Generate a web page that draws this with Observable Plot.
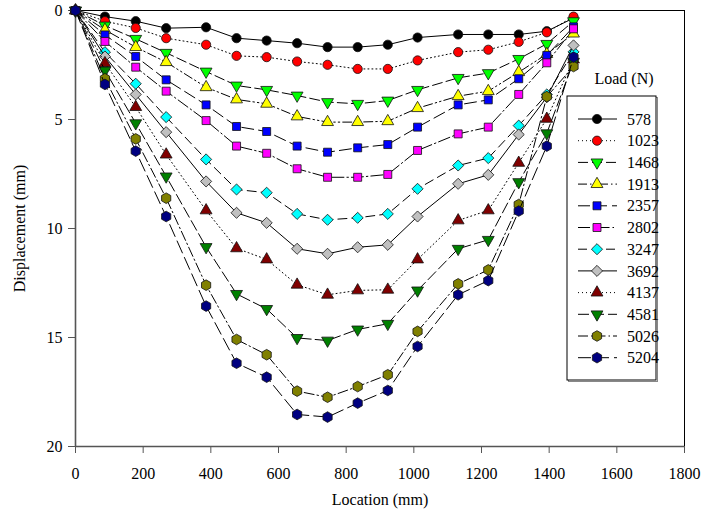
<!DOCTYPE html>
<html>
<head>
<meta charset="utf-8">
<script src="https://cdn.jsdelivr.net/npm/d3@7"></script>
<script src="https://cdn.jsdelivr.net/npm/@observablehq/plot@0.6"></script>
<style>
  html, body { margin: 0; padding: 0; background: white; }
  #wrap { position: relative; width: 701px; height: 519px; }
  #wrap svg.legend { position: absolute; left: 0; top: 0; pointer-events: none; }
  #wrap svg, #wrap svg text { font-family: "Liberation Serif", "Times New Roman", Times, serif !important; }
</style>
</head>
<body>
<div id="wrap"></div>
<script>
// ---- data ----
const locations = [0, 87, 178, 268, 386, 476, 565, 655, 745, 834, 923, 1011, 1131, 1220, 1310, 1393, 1472];
const loads = [578, 1023, 1468, 1913, 2357, 2802, 3247, 3692, 4137, 4581, 5026, 5204];
const d578  = [0, 0.28, 0.49, 0.81, 0.77, 1.27, 1.38, 1.50, 1.68, 1.68, 1.57, 1.24, 1.10, 1.10, 1.10, 0.95, 0.35];
const d1023 = [0, 0.49, 0.80, 1.27, 1.57, 2.08, 2.14, 2.34, 2.49, 2.68, 2.68, 2.29, 1.91, 1.80, 1.44, 1.00, 0.28];
const d1468 = [0, 0.69, 1.30, 1.94, 2.80, 3.44, 3.64, 3.90, 4.20, 4.28, 4.13, 3.64, 3.09, 2.87, 2.22, 1.53, 0.49];
const d1913 = [0, 0.89, 1.68, 2.37, 3.52, 4.08, 4.28, 4.86, 5.12, 5.12, 5.08, 4.48, 3.93, 3.70, 2.83, 2.00, 1.06];
const d2357 = [0, 1.12, 2.11, 3.18, 4.33, 5.32, 5.55, 6.22, 6.50, 6.30, 6.15, 5.35, 4.33, 4.10, 3.13, 2.06, 0.75];
const d2802 = [0, 1.42, 2.60, 3.70, 5.05, 6.22, 6.55, 7.26, 7.65, 7.65, 7.52, 6.42, 5.66, 5.35, 3.85, 2.40, 0.84];
const d3247 = [0, 1.91, 3.36, 4.89, 6.83, 8.21, 8.36, 9.33, 9.60, 9.51, 9.33, 8.18, 7.11, 6.77, 5.28, 3.85, 1.90];
const d3692 = [0, 2.11, 3.85, 5.58, 7.84, 9.28, 9.74, 10.93, 11.16, 10.86, 10.75, 9.45, 7.95, 7.54, 5.69, 3.98, 1.60];
const d4137 = [0, 2.42, 4.43, 6.61, 9.17, 10.91, 11.42, 12.58, 13.04, 12.84, 12.81, 11.42, 9.63, 9.17, 6.99, 4.97, 2.25];
const d4581 = [0, 2.75, 5.17, 7.61, 10.85, 13.00, 13.69, 15.02, 15.14, 14.63, 14.37, 12.84, 10.93, 10.52, 7.87, 5.63, 2.35];
const d5026 = [0, 3.13, 5.89, 8.61, 12.60, 15.09, 15.79, 17.46, 17.74, 17.25, 16.71, 14.72, 12.54, 11.90, 8.90, 3.95, 2.57];
const d5204 = [0, 3.39, 6.45, 9.45, 13.56, 16.18, 16.82, 18.53, 18.65, 18.01, 17.43, 15.41, 13.04, 12.39, 9.20, 6.22, 2.14];
const seriesValues = [d578, d1023, d1468, d1913, d2357, d2802, d3247, d3692, d4137, d4581, d5026, d5204];
const xTicks = [0, 200, 400, 600, 800, 1000, 1200, 1400, 1600, 1800];
const yTicks = [0, 5, 10, 15, 20];

// ---- symbols ----
const sqrt3 = Math.sqrt(3);
const triDown = { draw(ctx, size) {
  const y = -Math.sqrt(size / (sqrt3 * 3));
  ctx.moveTo(0, -y * 2); ctx.lineTo(-sqrt3 * y, y); ctx.lineTo(sqrt3 * y, y); ctx.closePath();
}};
const hexagon = { draw(ctx, size) {
  const rx = Math.sqrt(size / Math.PI), ry = rx * 2 / sqrt3, hy = ry / 2;
  ctx.moveTo(0, ry); ctx.lineTo(rx, hy); ctx.lineTo(rx, -hy); ctx.lineTo(0, -ry);
  ctx.lineTo(-rx, -hy); ctx.lineTo(-rx, hy); ctx.closePath();
}};

// ---- styles ----
const FONT = "'Liberation Serif', 'Times New Roman', Times, serif";
const styles = [
  {fill: "#000000", symbol: d3.symbolCircle,   r: 4.6, dash: null},
  {fill: "#ff0000", symbol: d3.symbolCircle,   r: 4.6, dash: "1,3"},
  {fill: "#00ff00", symbol: triDown,           r: 4.4, dash: "10,4"},
  {fill: "#ffff00", symbol: d3.symbolTriangle, r: 4.4, dash: "9,3,1.5,3,1.5,3"},
  {fill: "#0000ff", symbol: d3.symbolSquare,   r: 4.5, dash: "12,5"},
  {fill: "#ff00ff", symbol: d3.symbolSquare,   r: 4.5, dash: "12,3,1.5,3"},
  {fill: "#00ffff", symbol: d3.symbolDiamond2, r: 5.0, dash: "9,5"},
  {fill: "#c0c0c0", symbol: d3.symbolDiamond2, r: 5.0, dash: null},
  {fill: "#800000", symbol: d3.symbolTriangle, r: 4.4, dash: "1,3"},
  {fill: "#008000", symbol: triDown,           r: 4.4, dash: "11,4"},
  {fill: "#808000", symbol: hexagon,           r: 4.6, dash: "10,3,1.5,3"},
  {fill: "#000080", symbol: hexagon,           r: 4.6, dash: "13,5"}
];

const rows = loads.map((load, i) => seriesValues[i].map((v, j) => ({load, x: locations[j], y: v})));

const marks = [];
rows.forEach((data, i) => {
  const st = styles[i];
  marks.push(Plot.line(data, {x: "x", y: "y", stroke: "black", strokeWidth: 1, strokeDasharray: st.dash || undefined}));
  marks.push(Plot.dot(data, {x: "x", y: "y", symbol: st.symbol, r: st.r, fill: st.fill, stroke: "#111", strokeWidth: 0.8}));
});

const chart = Plot.plot({
  width: 701, height: 519,
  marginLeft: 75, marginRight: 17, marginTop: 10, marginBottom: 73,
  style: {fontFamily: FONT, fontSize: "16px", color: "black", background: "white"},
  x: {domain: [0, 1800]},
  y: {domain: [0, 20], reverse: true},
  marks: [
    Plot.frame({stroke: "black", strokeWidth: 1}),
    Plot.axisX({ticks: xTicks, tickSize: 7, tickPadding: 14, tickFormat: d => String(d), stroke: "#555",
      label: "Location (mm)", labelAnchor: "center", labelOffset: 58, labelArrow: false}),
    Plot.axisY({ticks: yTicks, tickSize: 7, tickPadding: 6, tickFormat: d => String(d), stroke: "#555",
      label: "Displacement (mm)", labelAnchor: "center", labelOffset: 62, labelArrow: false}),
    Plot.ruleX([0], {stroke: "#555", strokeWidth: 1.6}),
    Plot.ruleY([20], {stroke: "#555", strokeWidth: 1.6}),
    ...marks
  ]
});
document.getElementById("wrap").appendChild(chart);

// ---- legend (overlay) ----
const L = {x0: 567, y0: 96, w: 89, h: 284, title: "Load (N)", titleX: 624, titleY: 84,
           firstY: 119, step: 21.7, lx0: 578, lx1: 617, mx: 597, tx: 627};
const svg = d3.select("#wrap").append("svg").attr("class", "legend")
  .attr("width", 701).attr("height", 519)
  .style("font-family", FONT).style("font-size", "16px");
svg.append("text").attr("x", L.titleX).attr("y", L.titleY).attr("text-anchor", "middle").text(L.title);
svg.append("rect").attr("x", L.x0 + 1.5).attr("y", L.y0 + 1.5).attr("width", L.w).attr("height", L.h)
  .attr("fill", "none").attr("stroke", "#888").attr("stroke-width", 1);
svg.append("rect").attr("x", L.x0).attr("y", L.y0).attr("width", L.w).attr("height", L.h)
  .attr("fill", "white").attr("stroke", "black").attr("stroke-width", 1);
loads.forEach((load, i) => {
  const st = styles[i];
  const y = L.firstY + i * L.step;
  const g = svg.append("g");
  g.append("line").attr("x1", L.lx0).attr("x2", L.lx1).attr("y1", y).attr("y2", y)
    .attr("stroke", "black").attr("stroke-width", 1).attr("stroke-dasharray", st.dash);
  g.append("path").attr("transform", `translate(${L.mx},${y})`)
    .attr("d", d3.symbol(st.symbol, Math.PI * st.r * st.r)())
    .attr("fill", st.fill).attr("stroke", "#111").attr("stroke-width", 0.8);
  g.append("text").attr("x", L.tx).attr("y", y).attr("dy", "0.35em").text(load);
});
</script>
</body>
</html>
